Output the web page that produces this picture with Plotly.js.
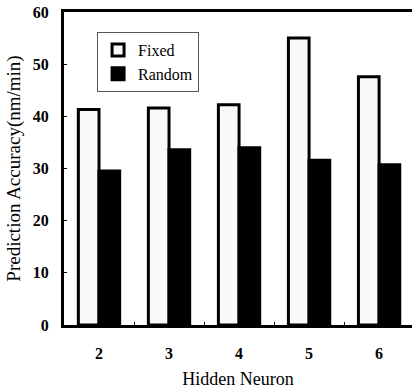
<!DOCTYPE html>
<html>
<head>
<meta charset="utf-8">
<script src="https://cdn.plot.ly/plotly-3.0.1.min.js"></script>
<style>html,body{margin:0;padding:0;background:#fff;}#chart{width:412px;height:389px;}</style>
</head>
<body>
<div id="chart"></div>
<script>
var categories = ["2", "3", "4", "5", "6"];
var fixedValues = [41.3, 41.6, 42.2, 55.0, 47.6];
var randomValues = [29.5, 33.6, 34.0, 31.6, 30.7];
var yTicks = [0, 10, 20, 30, 40, 50, 60];

var serif = "Liberation Serif, Times New Roman, serif";

var data = [
  {
    type: "bar", name: "Fixed", x: categories, y: fixedValues,
    marker: {color: "#f9f9f9", line: {color: "#000", width: 3}}
  },
  {
    type: "bar", name: "Random", x: categories, y: randomValues,
    marker: {color: "#000", line: {color: "#000", width: 3}}
  }
];

var layout = {
  width: 412, height: 389,
  margin: {l: 64, r: 0, t: 12, b: 64},
  paper_bgcolor: "#fff", plot_bgcolor: "#fff",
  barmode: "group", bargap: 0.41, bargroupgap: 0,
  font: {family: serif, color: "#000", size: 16},
  xaxis: {
    type: "category", range: [-0.5, 4.47],
    showline: true, linewidth: 3, linecolor: "#000", mirror: true,
    ticks: "inside", ticklen: 3, tickwidth: 1, tickcolor: "#000",
    tickson: "boundaries", showgrid: false, zeroline: false,
    tickfont: {family: serif, size: 16, weight: 700},
    ticklabelstandoff: 12,
    title: {text: "Hidden Neuron", font: {family: serif, size: 18}, standoff: 12},
    automargin: false
  },
  yaxis: {
    range: [0, 60], tickvals: yTicks, ticktext: yTicks.map(String),
    showline: true, linewidth: 3, linecolor: "#000", mirror: true,
    ticks: "inside", ticklen: 3, tickwidth: 1, tickcolor: "#000",
    showgrid: false, zeroline: false,
    tickfont: {family: serif, size: 16, weight: 700},
    ticklabelstandoff: 9,
    title: {text: "Prediction Accuracy(nm/min)", font: {family: serif, size: 19}, standoff: 8},
    automargin: false
  },
  legend: {
    x: 0.095, y: 0.936, xanchor: "left", yanchor: "top",
    bgcolor: "#fff", bordercolor: "#555", borderwidth: 1,
    font: {family: serif, size: 16}, itemwidth: 30,
    tracegroupgap: 0
  },
  showlegend: true
};

Plotly.newPlot("chart", data, layout, {staticPlot: true, displayModeBar: false});
</script>
</body>
</html>
